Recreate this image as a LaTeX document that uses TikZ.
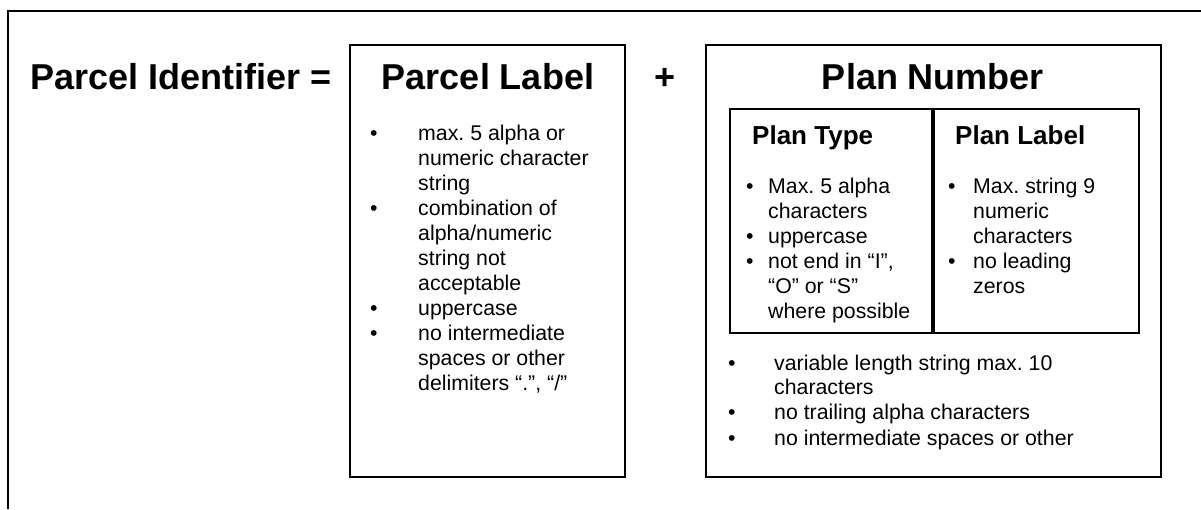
\documentclass[tikz,border=0pt]{standalone}
\usepackage{fontspec}
\setmainfont{Liberation Sans}
\usetikzlibrary{positioning}

\frenchspacing
\newcommand{\bulletlist}[2]{\begin{tabular}[t]{@{}p{#1}@{}l@{}}#2\end{tabular}}

\tikzset{
  box/.style={draw, line width=1.4pt, inner sep=0pt, outer sep=0pt},
  bigtitle/.style={font=\fontsize{36}{40}\selectfont\bfseries, inner sep=0pt},
  subtitle/.style={font=\fontsize{26}{30}\selectfont\bfseries, inner sep=0pt, anchor=base west},
  itemtext/.style={font=\fontsize{21.3}{25}\selectfont, inner sep=0pt, anchor=base west}
}

\begin{document}
\begin{tikzpicture}[x=1pt,y=-1pt]
        \useasboundingbox (0,0) rectangle (1201,509);
        % frame, only top and left edges show
        \draw[line width=2pt] (8,509) -- (8,11) -- (1201,11);
        % boxes
        \node[box, minimum width=275, minimum height=432] (parcelbox) at (487.5,261) {};
        \node[box, minimum width=455, minimum height=432] (planbox) at (933.5,261) {};
        \node[box, minimum width=202, minimum height=224] (typebox) at (831,221) {};
        \node[box, minimum width=205, minimum height=224] (labelbox) at (1036.5,221) {};
        % titles
        \node[bigtitle, anchor=base west] (ident) at (30,89) {Parcel Identifier =};
        \node[bigtitle, anchor=base] (parceltitle) at (488,89) {Parcel Label};
        \node[bigtitle, anchor=center] (plus) at (665,79) {+};
        \node[bigtitle, anchor=base] (plantitle) at (933,89) {Plan Number};
        \node[subtitle] (typetitle) at (752,144) {Plan Type};
        \node[subtitle] (labeltitle) at (955,144) {Plan Label};
        % lists
        \node[itemtext] (parcellist) at (370,140) {\bulletlist{48pt}{%
            • & max. 5 alpha or\\
              & numeric character\\
              & string\\
            • & combination of\\
              & alpha/numeric\\
              & string not\\
              & acceptable\\
            • & uppercase\\
            • & no intermediate\\
              & spaces or other\\
              & delimiters “.”, “/”}};
        \node[itemtext] (typelist) at (746,193) {\bulletlist{22pt}{%
            • & Max. 5 alpha\\
              & characters\\
            • & uppercase\\
            • & not end in “I”,\\
              & “O” or “S”\\
              & where possible}};
        \node[itemtext] (labellist) at (948,193) {\bulletlist{25pt}{%
            • & Max. string 9\\
              & numeric\\
              & characters\\
            • & no leading\\
              & zeros}};
        \node[itemtext] (planlist) at (728,370) {\bulletlist{46pt}{%
            • & variable length string max. 10\\[-1pt]
              & characters\\
            • & no trailing alpha characters\\[1pt]
            • & no intermediate spaces or other}};
    \end{tikzpicture}
\end{document}
